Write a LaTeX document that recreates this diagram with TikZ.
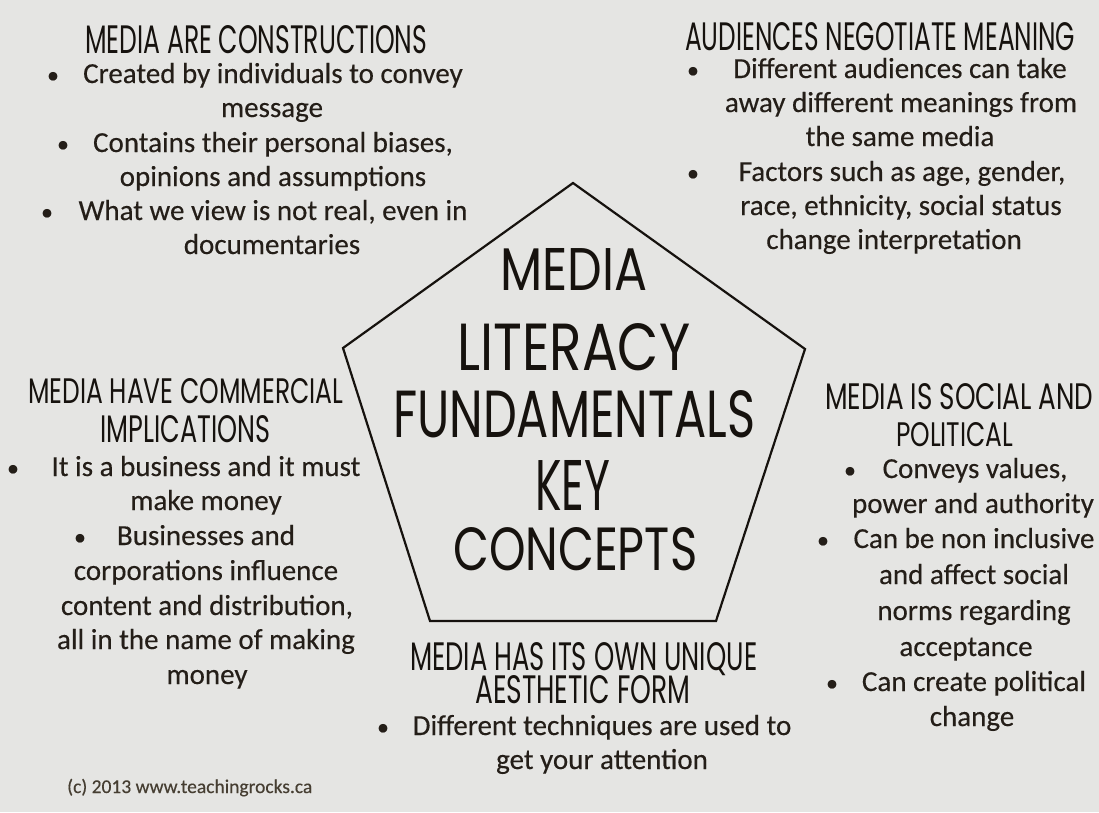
\documentclass[tikz,border=0pt]{standalone}
\usepackage{fontspec}
\usepackage{graphicx}
\setmainfont{Carlito}[FakeBold=0.3]
\newfontfamily\handfont{Poppins}
\definecolor{paper}{RGB}{229,229,227}
\definecolor{ink}{RGB}{36,30,24}
\definecolor{pen}{RGB}{22,18,14}
\definecolor{faint}{RGB}{70,62,50}

% heading line squeezed into a given box: name, left, right, cap top, baseline, text
\newcommand\hdl[6]{%
  \pgfmathsetlengthmacro\hdw{#3-#2}%
  \pgfmathsetlengthmacro\hdh{#5-#4}%
  \node[hd,anchor=base west] (#1) at (#2,#5) {\resizebox{\hdw}{\hdh}{#6}};}
% body line centred on x at a baseline: name, x, baseline, text
\newcommand\bdl[4]{\node[body,anchor=base] (#1) at (#2,#3) {#4};}
% bullet: name, x, baseline
\newcommand\bdot[3]{\node[dot,anchor=base] (#1) at (#2,#3) {•};}

\begin{document}
\begin{tikzpicture}[x=1pt,y=-1pt,
  hd/.style={inner sep=0pt,text=pen,font=\handfont},
  body/.style={inner sep=0pt,text=ink,font=\fontsize{29}{34}\selectfont},
  dot/.style={inner sep=0pt,text=ink,font=\fontsize{24}{28}\selectfont},
  edge/.style={draw=pen,line width=2.2pt,line join=miter}]
\fill[paper] (0,0) rectangle (1099,812);
\useasboundingbox (0,0) rectangle (1099,812);

% central pentagon
\coordinate (pt) at (573,183);
\coordinate (pr) at (805,349);
\coordinate (pbr) at (716,621);
\coordinate (pbl) at (430,621);
\coordinate (pl) at (343,348);
\draw[edge] (pt) -- (pr) -- (pbr) -- (pbl) -- (pl) -- cycle;

% title inside the pentagon
\hdl{c1}{500}{647}{248}{290}{MEDIA}
\hdl{c2}{457}{690}{323}{370}{LITERACY}
\hdl{c3}{393}{755}{390}{437}{FUNDAMENTALS}
\hdl{c4}{535}{610}{460}{510}{KEY}
\hdl{c5}{453}{697}{527}{570}{CONCEPTS}

% media are constructions
\hdl{tlh}{85}{427}{25}{53}{MEDIA ARE CONSTRUCTIONS}
\bdot{tlb1}{53}{83}
\bdl{tl1}{273}{83}{Created by individuals to convey}
\bdl{tl2}{272}{117}{message}
\bdot{tlb2}{63}{152}
\bdl{tl3}{273}{152}{Contains their personal biases,}
\bdl{tl4}{273}{186}{opinions and assumptions}
\bdot{tlb3}{47}{220}
\bdl{tl5}{273}{220}{What we view is not real, even in}
\bdl{tl6}{272}{254}{documentaries}

% audiences negotiate meaning
\hdl{trh}{685}{1075}{22}{50}{AUDIENCES NEGOTIATE MEANING}
\bdot{trb1}{693}{78}
\bdl{tr1}{900}{78}{Different audiences can take}
\bdl{tr2}{901}{112}{away different meanings from}
\bdl{tr3}{900}{146}{the same media}
\bdot{trb2}{693}{181}
\bdl{tr4}{902}{181}{Factors such as age, gender,}
\bdl{tr5}{901}{215}{race, ethnicity, social status}
\bdl{tr6}{894}{249}{change interpretation}

% media have commercial implications
\hdl{lh1}{28}{343}{378}{403}{MEDIA HAVE COMMERCIAL}
\hdl{lh2}{100}{270}{415}{442}{IMPLICATIONS}
\bdot{lb1}{13}{476}
\bdl{l1}{206}{476}{It is a business and it must}
\bdl{l2}{206}{510}{make money}
\bdot{lb2}{80}{545}
\bdl{l3}{206}{545}{Businesses and}
\bdl{l4}{206}{580}{corporations influence}
\bdl{l5}{207}{615}{content and distribution,}
\bdl{l6}{206}{649}{all in the name of making}
\bdl{l7}{207}{684}{money}

% media is social and political
\hdl{rh1}{825}{1093}{383}{409}{MEDIA IS SOCIAL AND}
\hdl{rh2}{896}{1013}{422}{446}{POLITICAL}
\bdot{rb1}{850}{478}
\bdl{r1}{975}{478}{Conveys values,}
\bdl{r2}{973}{513}{power and authority}
\bdot{rb2}{823}{548}
\bdl{r3}{974}{548}{Can be non inclusive}
\bdl{r4}{974}{584}{and affect social}
\bdl{r5}{974}{620}{norms regarding}
\bdl{r6}{966}{656}{acceptance}
\bdot{rb3}{832}{691}
\bdl{r7}{974}{691}{Can create political}
\bdl{r8}{972}{726}{change}

% media has its own unique aesthetic form
\hdl{bh1}{410}{757}{642}{670}{MEDIA HAS ITS OWN UNIQUE}
\hdl{bh2}{475}{690}{675}{703}{AESTHETIC FORM}
\bdot{bb1}{383}{735}
\bdl{b1}{602}{735}{Different techniques are used to}
\bdl{b2}{602}{769}{get your attention}

% credit line
\node[inner sep=0pt,anchor=base west,text=faint,font=\fontsize{19.5}{22}\selectfont] (credit) at (67,793) {(c) 2013 www.teachingrocks.ca};
\end{tikzpicture}
\end{document}
